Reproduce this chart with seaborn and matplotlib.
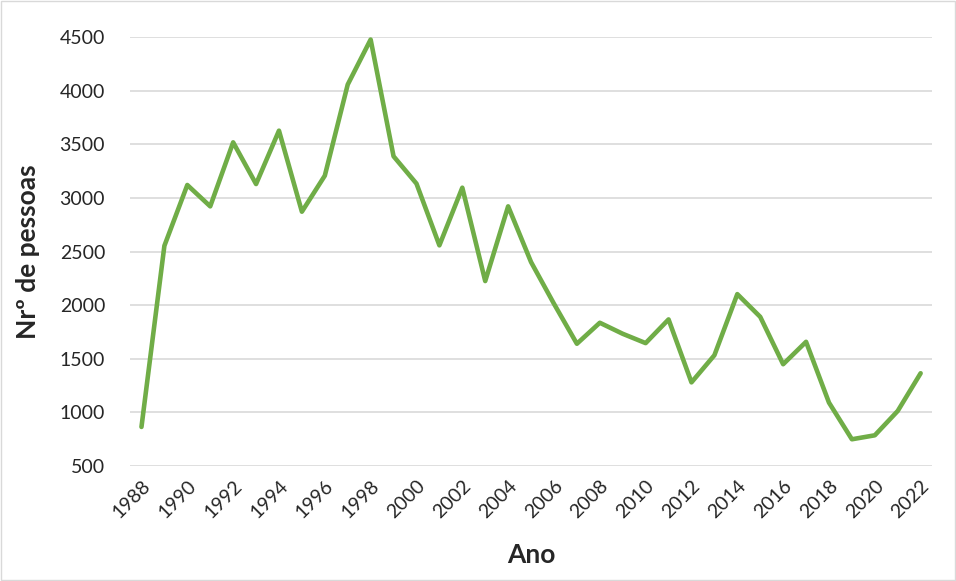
import numpy as np
import pandas as pd
import matplotlib
matplotlib.use("Agg")
import matplotlib.pyplot as plt
import seaborn as sns

# Dados
anos = list(range(1988, 2023))
pessoas = [864, 2554, 3121, 2922, 3519, 3130, 3628, 2872, 3208, 4058,
           4478, 3389, 3134, 2558, 3096, 2225, 2922, 2402, 2013, 1640,
           1836, 1733, 1646, 1867, 1280, 1533, 2103, 1891, 1449, 1658,
           1091, 749, 786, 1013, 1365]
yticks = list(range(500, 5000, 500))
xticks = list(range(1988, 2023, 2))

df = pd.DataFrame({"Ano": anos, "Pessoas": pessoas})

sns.set_style("white")
plt.rcParams["font.family"] = ["Lato", "DejaVu Sans"]

fig = plt.figure(figsize=(9.56, 5.81), dpi=100)
ax = fig.add_axes([0.136, 0.198, 0.839, 0.738])

sns.lineplot(data=df, x="Ano", y="Pessoas", color="#70ad47", linewidth=3.3, ax=ax)

ax.set_xlim(1987.5, 2022.5)
ax.set_ylim(500, 4500)
ax.set_yticks(yticks)
ax.set_xticks(xticks)
ax.set_xticklabels([str(a) for a in xticks], rotation=45, ha="right",
                   rotation_mode="anchor", fontsize=14)
ax.tick_params(axis="y", labelsize=14, length=0, pad=18)
ax.tick_params(axis="x", length=0, pad=8)
ax.yaxis.grid(True, color="#d9d9d9", linewidth=1.2)
ax.set_axisbelow(True)
for s in ax.spines.values():
    s.set_visible(False)

ax.set_xlabel("Ano", fontsize=19, fontweight="bold", labelpad=16)
ax.set_ylabel("Nrº de pessoas", fontsize=19, fontweight="bold", labelpad=14)

# moldura da figura
fig.patches.append(plt.Rectangle((0.001, 0.001), 0.998, 0.998, transform=fig.transFigure,
                                 fill=False, edgecolor="#d9d9d9", linewidth=1))

fig.savefig("out.png", dpi=100)
